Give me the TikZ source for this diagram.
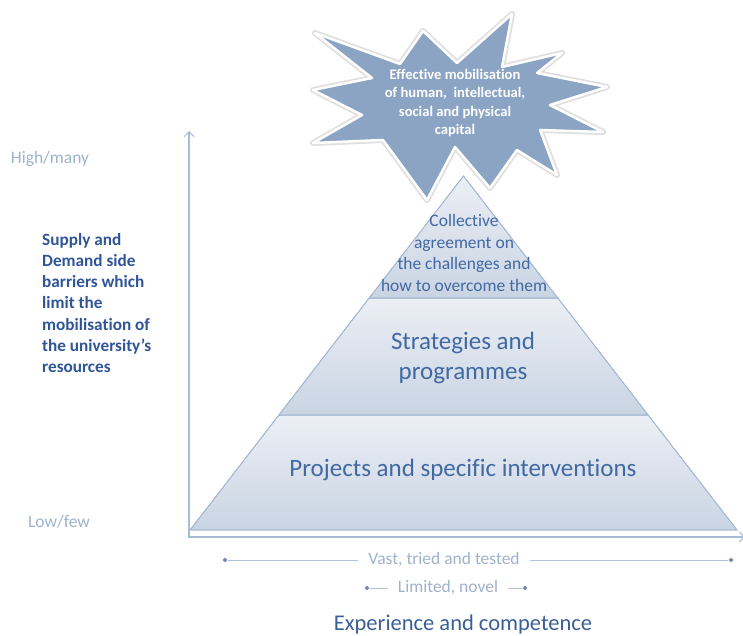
\documentclass[tikz,border=0pt]{standalone}
\usepackage{fontspec}
\setmainfont{Carlito}[Ligatures={NoCommon,NoRequired,NoContextual}]
\usetikzlibrary{arrows.meta}
\definecolor{axiscol}{HTML}{A8BCD8}
\definecolor{pale}{HTML}{9FB2CD}
\definecolor{deep}{HTML}{2F5597}
\definecolor{midblue}{HTML}{4169A3}
\definecolor{edgecol}{HTML}{A5B8D2}
\definecolor{ptop}{HTML}{ECEFF5}
\definecolor{pbot}{HTML}{C9D4E3}
\definecolor{starcol}{HTML}{8CA4C4}
\definecolor{expcol}{HTML}{3A5F95}
\tikzset{
  axisline/.style={draw=axiscol, line width=1.5pt, -{Straight Barb[length=5pt,width=10pt,line width=1pt]}},
  layer/.style={top color=ptop, bottom color=pbot, draw=edgecol, line width=0.8pt},
  palelabel/.style={text=pale, font=\fontsize{17.5}{21}\selectfont, inner sep=1pt},
  pyrtext/.style={text=midblue, align=center, inner sep=0pt},
  dotline/.style={draw=axiscol!90, line width=1pt},
  dotend/.style={diamond, fill=axiscol!90!blue!80!black, inner sep=0pt, minimum size=5pt},
}
\usetikzlibrary{shapes.geometric}
\begin{document}
\begin{tikzpicture}[x=1pt,y=-1pt]
\useasboundingbox (0,0) rectangle (743,636);

% pyramid layers
\coordinate (apex) at (463.5,176);
\coordinate (l1) at (369.2,298);
\coordinate (r1) at (557.8,298);
\coordinate (l2) at (278.9,415);
\coordinate (r2) at (648.1,415);
\coordinate (bl) at (190,530);
\coordinate (br) at (737,530);
\shade[layer] (l2) -- (r2) -- (br) -- (bl) -- cycle;
\draw[edgecol, line width=0.8pt] (l2) -- (r2) -- (br) -- (bl) -- cycle;
\shade[layer] (l1) -- (r1) -- (r2) -- (l2) -- cycle;
\draw[edgecol, line width=0.8pt] (l1) -- (r1) -- (r2) -- (l2) -- cycle;
\shade[layer] (apex) -- (r1) -- (l1) -- cycle;
\draw[edgecol, line width=0.8pt] (apex) -- (r1) -- (l1) -- cycle;

% axes
\coordinate (origin) at (189,538);
\coordinate (ytop) at (189,131);
\coordinate (xend) at (745,537);
\draw[axisline] (origin) -- (ytop);
\draw[axisline] (189,537) -- (xend);

% star
\def\starpath{(315,33) -- (400,64) -- (423,31) -- (457,63) -- (512,14) -- (502,67) -- (562,53) -- (537,73) -- (607,87) -- (550,105) -- (603,132) -- (540,130) -- (557,175) -- (517,150) -- (490,188) -- (455,147) -- (427,200) -- (383,140) -- (313,143) -- (362,115) -- (313,90) -- (372,78) -- cycle}
\draw[line width=6pt, gray!25, line join=round] \starpath;
\filldraw[fill=starcol, draw=white, line width=2.5pt, line join=round] \starpath;
\node[text=white, align=center, font=\fontsize{14.6}{18.5}\selectfont\bfseries, inner sep=0pt] (startext) at (455,103)
  {Effective mobilisation\\of human,\ \ intellectual,\\social and physical\\capital};

% pyramid texts
\node[pyrtext, font=\fontsize{17.5}{21.5}\selectfont] (collective) at (464,253)
  {Collective\\agreement on\\the challenges and\\how to overcome them};
\node[pyrtext, font=\fontsize{25}{30}\selectfont] (strategies) at (463,358)
  {Strategies and\\programmes};
\node[pyrtext, font=\fontsize{25}{30}\selectfont] (projects) at (463,470)
  {Projects and specific interventions};

% left labels
\node[palelabel] (high) at (50,159) {High/many};
\node[palelabel] (low) at (59,522) {Low/few};
\node[text=deep, align=left, anchor=west, inner sep=0pt, font=\fontsize{17.2}{21.3}\selectfont\bfseries] (barriers) at (42,303)
  {Supply and\\Demand side\\barriers which\\limit the\\mobilisation of\\the university’s\\resources};

% bottom scales
\node[palelabel] (vast) at (444,560) {Vast, tried and tested};
\node[palelabel] (limited) at (448,588) {Limited, novel};
\node[dotend] (v1) at (225,560) {};
\node[dotend] (v2) at (731,560) {};
\node[dotend] (m1) at (367,588) {};
\node[dotend] (m2) at (525,588) {};
\draw[dotline] (v1) -- ([xshift=-9pt]vast.west);
\draw[dotline] ([xshift=9pt]vast.east) -- (v2);
\draw[dotline] (m1) -- ([xshift=-9pt]limited.west);
\draw[dotline] ([xshift=9pt]limited.east) -- (m2);

\node[text=expcol, font=\fontsize{22.5}{27}\selectfont] (exp) at (463,624) {Experience and competence};
\end{tikzpicture}
\end{document}
